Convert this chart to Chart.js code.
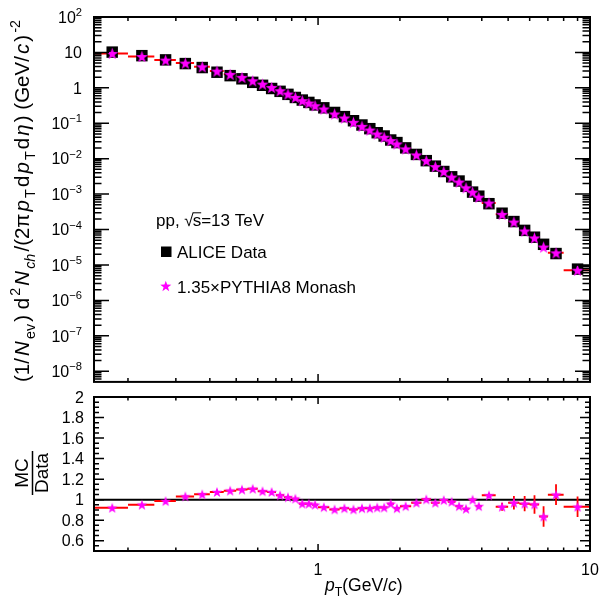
<!DOCTYPE html>
<html>
<head>
<meta charset="utf-8">
<script src="https://cdn.jsdelivr.net/npm/chart.js@4.4.1/dist/chart.umd.min.js"></script>
<style>
  body { margin: 0; background: #fff; }
  #wrap { position: relative; width: 600px; height: 601px; }
  canvas { position: absolute; left: 0; }
</style>
</head>
<body>
<div id="wrap">
  <canvas id="spectrum" width="600" height="390" style="top:0"></canvas>
  <canvas id="ratio" width="600" height="211" style="top:390px"></canvas>
</div>
<script>
// pT bins (GeV/c)
const ptEdges = [0.15, 0.2, 0.25, 0.3, 0.35, 0.4, 0.45, 0.5, 0.55, 0.6, 0.65, 0.7, 0.75, 0.8, 0.85, 0.9, 0.95,
  1.0, 1.1, 1.2, 1.3, 1.4, 1.5, 1.6, 1.7, 1.8, 1.9,
  2.0, 2.2, 2.4, 2.6, 2.8, 3.0, 3.2, 3.4, 3.6, 3.8,
  4.0, 4.5, 5.0, 5.5, 6.0, 6.5, 7.0, 8.0, 10.0];
const ptCenters = [0.175, 0.225, 0.275, 0.325, 0.375, 0.425, 0.475, 0.525, 0.575, 0.625, 0.675, 0.725, 0.775, 0.825, 0.875, 0.925, 0.975,
  1.05, 1.15, 1.25, 1.35, 1.45, 1.55, 1.65, 1.75, 1.85, 1.95,
  2.1, 2.3, 2.5, 2.7, 2.9, 3.1, 3.3, 3.5, 3.7, 3.9,
  4.25, 4.75, 5.25, 5.75, 6.25, 6.75, 7.5, 9.0];

// ALICE data yield
const aliceYield = [10.2, 8.1, 6.16, 4.84, 3.74, 2.76, 2.21, 1.80, 1.43, 1.18, 0.958, 0.797, 0.655, 0.535, 0.452, 0.388, 0.329,
  0.273, 0.202, 0.154, 0.118, 0.0894, 0.0704, 0.0541, 0.0437, 0.0337, 0.0285,
  0.0202, 0.0132, 0.0088, 0.00616, 0.00435, 0.00308, 0.00234, 0.00166, 0.00114, 0.000875,
  0.000537, 0.000289, 0.000168, 9.47e-5, 6.08e-5, 3.83e-5, 2.10e-5, 7.63e-6];

// MC / Data
const mcRatio = [0.921, 0.951, 0.986, 1.032, 1.052, 1.075, 1.088, 1.098, 1.106, 1.082, 1.075, 1.042, 1.023, 1.010, 0.961, 0.961, 0.951,
  0.927, 0.905, 0.917, 0.905, 0.917, 0.917, 0.924, 0.924, 0.961, 0.917,
  0.937, 0.970, 1.003, 0.970, 0.996, 0.980, 0.937, 0.911, 1.000, 0.937,
  1.042, 0.931, 0.970, 0.961, 0.954, 0.836, 1.049, 0.931];
const ratioErr = [0.004, 0.004, 0.004, 0.004, 0.004, 0.004, 0.004, 0.004, 0.004, 0.004, 0.004, 0.004, 0.004, 0.004, 0.004, 0.004, 0.004,
  0.004, 0.004, 0.004, 0.004, 0.004, 0.004, 0.004, 0.005, 0.005, 0.005,
  0.006, 0.006, 0.007, 0.008, 0.009, 0.01, 0.012, 0.014, 0.015, 0.018,
  0.02, 0.04, 0.065, 0.075, 0.09, 0.1, 0.1, 0.1];

// axis labels
const yExponents = [2, 1, 0, -1, -2, -3, -4, -5, -6, -7, -8];
const ratioTicks = [2, 1.8, 1.6, 1.4, 1.2, 1, 0.8, 0.6];
const xTickLabels = [1, 10];

const FONT = '"Liberation Sans", Arial, Helvetica, sans-serif';
const RED = '#ff0000';
const MAGENTA = '#ff00ff';

function font(size, italic) {
  return (italic ? 'italic ' : '') + size + 'px ' + FONT;
}

// simple TLatex-like text: segments with italic / sub / sup
function layoutRich(ctx, segs, size, gap) {
  let w = 0;
  const parts = segs.map(s => {
    const sz = s.s ? size * 0.7 : size;
    ctx.font = font(sz, s.i);
    const pw = ctx.measureText(s.t).width;
    const p = Object.assign({}, s, { sz, x: w, dy: s.s === 'sub' ? size * 0.3 : s.s === 'sup' ? -size * 0.42 : 0 });
    w += pw + (gap || 0);
    return p;
  });
  return { parts, width: w - (gap || 0) };
}

function drawRich(ctx, segs, x, y, size, align, gap) {
  const L = layoutRich(ctx, segs, size, gap);
  const x0 = align === 'right' ? x - L.width : align === 'center' ? x - L.width / 2 : x;
  ctx.fillStyle = '#000';
  ctx.textAlign = 'left';
  ctx.textBaseline = 'alphabetic';
  L.parts.forEach(p => {
    ctx.font = font(p.sz, p.i);
    ctx.fillText(p.t, x0 + p.x, y + p.dy);
  });
  return L.width;
}

function starPath(ctx, cx, cy, R) {
  const r = R * 0.4;
  ctx.beginPath();
  for (let i = 0; i < 10; i++) {
    const a = -Math.PI / 2 + i * Math.PI / 5;
    const rad = i % 2 ? r : R;
    ctx.lineTo(cx + rad * Math.cos(a), cy + rad * Math.sin(a));
  }
  ctx.closePath();
}

function makeStar(R) {
  const c = document.createElement('canvas');
  const s = Math.ceil(R * 2 + 2);
  c.width = c.height = s;
  const g = c.getContext('2d');
  starPath(g, s / 2, s / 2 + R * 0.1, R);
  g.fillStyle = MAGENTA;
  g.fill();
  return c;
}

const starBig = makeStar(6.3);
const starSmall = makeStar(5.6);

// tick positions
const xMajor = [1, 10];
const xMinor = [];
for (let k = 2; k <= 9; k++) { xMinor.push(k / 10); xMinor.push(k); }

const yLogMajor = yExponents.map(e => Math.pow(10, e));
const yLogMinor = [];
for (let e = -9; e <= 1; e++) {
  for (let k = 2; k <= 9; k++) {
    const v = k * Math.pow(10, e);
    if (v > 5e-9 && v < 100) yLogMinor.push(v);
  }
}
const yRatioMinor = [];
for (let i = 10; i <= 40; i++) {
  if (i % 4 !== 0) yRatioMinor.push(i * 0.05);
}

function drawFrame(chart, cfg) {
  const { ctx, chartArea: a, scales } = chart;
  ctx.save();
  ctx.strokeStyle = '#000';
  ctx.lineWidth = 1.5;
  ctx.beginPath();
  const addX = (v, len) => {
    const px = scales.x.getPixelForValue(v);
    ctx.moveTo(px, a.bottom); ctx.lineTo(px, a.bottom - len);
    ctx.moveTo(px, a.top); ctx.lineTo(px, a.top + len);
  };
  const addY = (v, len) => {
    const py = scales.y.getPixelForValue(v);
    ctx.moveTo(a.left, py); ctx.lineTo(a.left + len, py);
    ctx.moveTo(a.right, py); ctx.lineTo(a.right - len, py);
  };
  xMajor.forEach(v => addX(v, cfg.xMaj));
  xMinor.forEach(v => addX(v, cfg.xMin));
  cfg.yMajor.forEach(v => addY(v, cfg.yMaj));
  cfg.yMinor.forEach(v => addY(v, cfg.yMin));
  ctx.stroke();
  ctx.lineWidth = 2;
  ctx.strokeRect(a.left, a.top, a.right - a.left, a.bottom - a.top);
  ctx.restore();
}

function drawBinBars(chart, values) {
  const { ctx, scales } = chart;
  ctx.save();
  ctx.strokeStyle = RED;
  ctx.lineWidth = 2;
  ctx.beginPath();
  values.forEach((v, i) => {
    const py = scales.y.getPixelForValue(v);
    ctx.moveTo(scales.x.getPixelForValue(ptEdges[i]), py);
    ctx.lineTo(scales.x.getPixelForValue(ptEdges[i + 1]), py);
  });
  ctx.stroke();
  ctx.restore();
}

const mcYield = aliceYield.map((d, i) => d * mcRatio[i]);

const yTitleSegs = [
  { t: '(1/' }, { t: 'N', i: 1 }, { t: 'ev', s: 'sub' }, { t: ') d' }, { t: '2', s: 'sup' },
  { t: 'N', i: 1 }, { t: 'ch', s: 'sub', i: 1 }, { t: '/(2\u03C0' }, { t: 'p', i: 1 }, { t: 'T', s: 'sub' },
  { t: 'd' }, { t: 'p', i: 1 }, { t: 'T', s: 'sub' }, { t: 'd' }, { t: '\u03B7', i: 1 },
  { t: ') (GeV/' }, { t: 'c', i: 1 }, { t: ')' }, { t: '-2', s: 'sup' }
];

const spectrumPlugin = {
  id: 'spectrumDecor',
  beforeDatasetsDraw(chart) {
    drawBinBars(chart, mcYield);
  },
  afterDraw(chart) {
    const { ctx, scales } = chart;
    drawFrame(chart, { xMaj: 8, xMin: 4, yMajor: yLogMajor, yMinor: yLogMinor, yMaj: 15, yMin: 7.5 });

    // y tick labels
    yExponents.forEach(e => {
      const py = scales.y.getPixelForValue(Math.pow(10, e));
      let segs;
      if (e === 0) segs = [{ t: '1' }];
      else if (e === 1) segs = [{ t: '10' }];
      else segs = [{ t: '10' }, { t: e < 0 ? '\u2212' + (-e) : String(e), s: 'sup' }];
      drawRich(ctx, segs, 82, py + 5.7, 16, 'right');
    });

    // y title
    ctx.save();
    ctx.translate(29, 201);
    ctx.rotate(-Math.PI / 2);
    const w0 = layoutRich(ctx, yTitleSegs, 20.5, 0).width;
    const gap = Math.max(0, (362 - w0) / (yTitleSegs.length - 1));
    drawRich(ctx, yTitleSegs, 0, 0, 20.5, 'center', gap);
    ctx.restore();

    // legend
    ctx.save();
    ctx.fillStyle = '#000';
    ctx.font = font(17);
    ctx.textAlign = 'left';
    ctx.fillText('pp, ', 156, 226);
    let x = 156 + ctx.measureText('pp, ').width;
    ctx.fillText('\u221A', x, 226);
    const rw = ctx.measureText('\u221A').width;
    const sw = ctx.measureText('s').width;
    ctx.fillText('s', x + rw - 1, 226);
    ctx.lineWidth = 1;
    ctx.beginPath();
    ctx.moveTo(x + rw - 1, 212.8);
    ctx.lineTo(x + rw + sw - 1, 212.8);
    ctx.stroke();
    ctx.fillText('=13 TeV', x + rw + sw - 1, 226);

    ctx.fillRect(161, 246.5, 10.5, 10.5);
    ctx.fillText('ALICE Data', 177, 257.5);
    starPath(ctx, 165.8, 286.5, 5.8);
    ctx.fillStyle = MAGENTA;
    ctx.fill();
    ctx.fillStyle = '#000';
    ctx.fillText('1.35\u00D7PYTHIA8 Monash', 177, 292.5);
    ctx.restore();
  }
};

const ratioPlugin = {
  id: 'ratioDecor',
  beforeDatasetsDraw(chart) {
    const { ctx, chartArea: a, scales } = chart;
    ctx.save();
    ctx.strokeStyle = '#000';
    ctx.lineWidth = 2;
    ctx.beginPath();
    const p1 = scales.y.getPixelForValue(1);
    ctx.moveTo(a.left, p1);
    ctx.lineTo(a.right, p1);
    ctx.stroke();
    ctx.strokeStyle = RED;
    ctx.lineWidth = 1.8;
    ctx.beginPath();
    mcRatio.forEach((v, i) => {
      const px = scales.x.getPixelForValue(ptCenters[i]);
      ctx.moveTo(px, scales.y.getPixelForValue(v - ratioErr[i]));
      ctx.lineTo(px, scales.y.getPixelForValue(v + ratioErr[i]));
    });
    ctx.stroke();
    ctx.restore();
    drawBinBars(chart, mcRatio);
  },
  afterDraw(chart) {
    const { ctx, scales } = chart;
    drawFrame(chart, { xMaj: 7, xMin: 3.5, yMajor: ratioTicks, yMinor: yRatioMinor, yMaj: 10, yMin: 5 });

    ratioTicks.forEach(v => {
      drawRich(ctx, [{ t: String(v) }], 84, scales.y.getPixelForValue(v) + 5.7, 16, 'right');
    });
    xTickLabels.forEach(v => {
      drawRich(ctx, [{ t: String(v) }], scales.x.getPixelForValue(v), 185, 16, 'center');
    });

    // x title
    drawRich(ctx, [{ t: 'p', i: 1 }, { t: 'T', s: 'sub' }, { t: '(GeV/' }, { t: 'c', i: 1 }, { t: ')' }], 325, 201, 17.5, 'left');

    // MC / Data
    ctx.save();
    ctx.fillStyle = '#000';
    ctx.textAlign = 'center';
    ctx.font = font(19);
    ctx.translate(28, 83);
    ctx.rotate(-Math.PI / 2);
    ctx.fillText('MC', 0, 0);
    ctx.restore();
    ctx.save();
    ctx.fillStyle = '#000';
    ctx.textAlign = 'center';
    ctx.font = font(19);
    ctx.translate(48, 83);
    ctx.rotate(-Math.PI / 2);
    ctx.fillText('Data', 0, 0);
    ctx.restore();
    ctx.save();
    ctx.strokeStyle = '#000';
    ctx.lineWidth = 1.5;
    ctx.beginPath();
    ctx.moveTo(32.5, 61);
    ctx.lineTo(32.5, 105);
    ctx.stroke();
    ctx.restore();
  }
};

const baseOptions = {
  responsive: false,
  animation: false,
  events: [],
  plugins: { legend: { display: false }, tooltip: { enabled: false } }
};

new Chart(document.getElementById('spectrum'), {
  type: 'scatter',
  data: {
    datasets: [
      {
        label: 'ALICE Data',
        data: ptCenters.map((x, i) => ({ x, y: aliceYield[i] })),
        pointStyle: 'rect',
        pointRadius: 8.1,
        backgroundColor: '#000',
        borderWidth: 0,
        order: 2
      },
      {
        label: '1.35\u00D7PYTHIA8 Monash',
        data: ptCenters.map((x, i) => ({ x, y: mcYield[i] })),
        pointStyle: starBig,
        pointRadius: 6,
        order: 1
      }
    ]
  },
  options: Object.assign({}, baseOptions, {
    layout: { padding: { left: 94, right: 10, top: 17, bottom: 7 } },
    scales: {
      x: { type: 'logarithmic', min: 0.15, max: 10, display: false },
      y: { type: 'logarithmic', min: 5e-9, max: 100, display: false }
    }
  }),
  plugins: [spectrumPlugin]
});

new Chart(document.getElementById('ratio'), {
  type: 'scatter',
  data: {
    datasets: [
      {
        label: 'MC/Data',
        data: ptCenters.map((x, i) => ({ x, y: mcRatio[i] })),
        pointStyle: starSmall,
        pointRadius: 6
      }
    ]
  },
  options: Object.assign({}, baseOptions, {
    layout: { padding: { left: 94, right: 10, top: 7, bottom: 50 } },
    scales: {
      x: { type: 'logarithmic', min: 0.15, max: 10, display: false },
      y: { type: 'linear', min: 0.5, max: 2, display: false }
    }
  }),
  plugins: [ratioPlugin]
});
</script>
</body>
</html>
